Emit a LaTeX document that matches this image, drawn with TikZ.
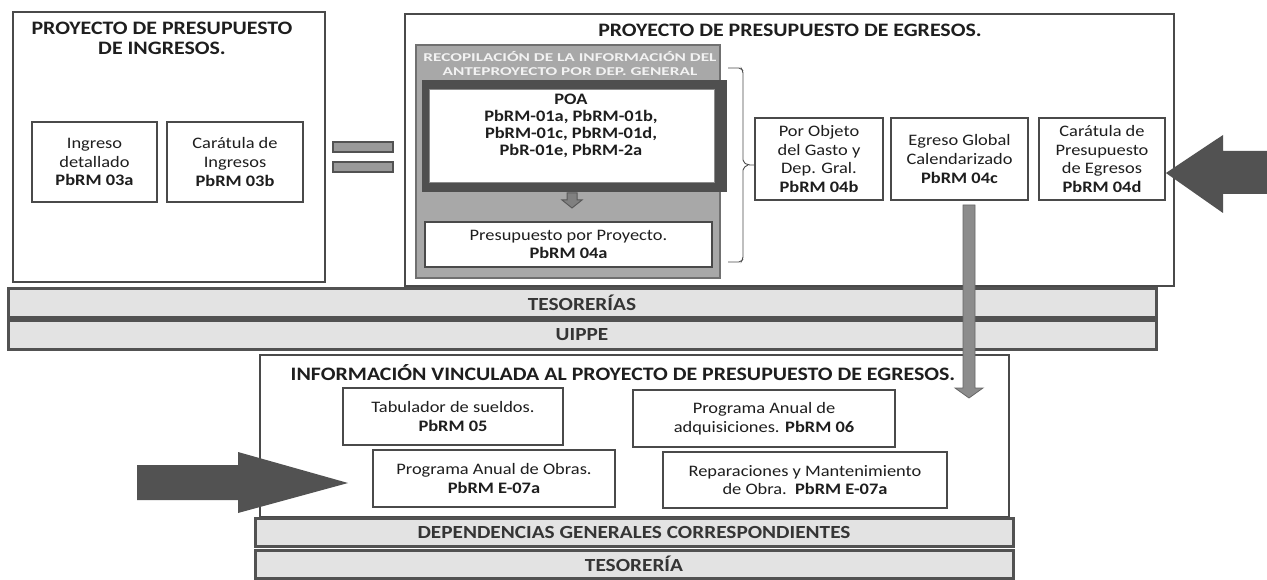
\documentclass[tikz,border=0pt]{standalone}
\usepackage{fontspec}
\setmainfont{Carlito}[FakeStretch=1.15]
\usetikzlibrary{calc}
\definecolor{boxc}{HTML}{4A4A4A}
\definecolor{txt}{HTML}{1E1E1E}
\definecolor{bandfill}{HTML}{E3E3E3}
\definecolor{bandline}{HTML}{525252}
\definecolor{grayarea}{HTML}{A8A8A8}
\definecolor{grayline}{HTML}{707070}
\definecolor{framedark}{HTML}{4F4F4F}
\definecolor{bigarrow}{HTML}{525252}
\definecolor{varrow}{HTML}{8C8C8C}
\definecolor{hdrtxt}{HTML}{F2F2F2}
\tikzset{
  panel/.style={draw=boxc, line width=1.8pt, fill=white, inner sep=0pt},
  box/.style={draw=boxc, line width=1.8pt, fill=white, align=center, inner sep=2pt,
    text=txt, font=\fontsize{16}{18.6}\selectfont},
  bigtitle/.style={align=center, text=txt, inner sep=0pt, font=\fontsize{19}{20}\selectfont\bfseries},
  band/.style={draw=bandline, line width=3pt, fill=bandfill, inner sep=0pt,
    text=txt!90, font=\fontsize{18.5}{20}\selectfont\bfseries},
  eqbar/.style={draw=bandline, line width=1.2pt, fill=black!40, inner sep=0pt},
  brace/.style={draw=black!70, line width=0.9pt, rounded corners=2pt},
}
\begin{document}
\begin{tikzpicture}[x=1pt,y=-1pt]
\useasboundingbox (0,0) rectangle (1267,580);

% ---------- Ingresos panel ----------
\node[panel, minimum width=312pt, minimum height=270pt] (ingpanel) at (169,147) {};
\node[bigtitle] (ingtitle) at (162,38) {PROYECTO DE PRESUPUESTO\\DE INGRESOS.};
\node[box, minimum width=125pt, minimum height=80pt] (ing) at (94.5,162)
  {Ingreso\\detallado\\\textbf{PbRM 03a}};
\node[box, minimum width=136pt, minimum height=80pt] (cari) at (235,162)
  {Carátula de\\Ingresos\\\textbf{PbRM 03b}};

% equals sign
\node[eqbar, minimum width=60pt, minimum height=10pt] (eqa) at (363,147) {};
\node[eqbar, minimum width=60pt, minimum height=10pt] (eqb) at (363,167) {};

% ---------- Egresos panel ----------
\node[panel, minimum width=769pt, minimum height=272pt] (egrpanel) at (789.5,150) {};
\node[bigtitle] (egrtitle) at (790,30) {PROYECTO DE PRESUPUESTO DE EGRESOS.};

\node[draw=grayline, line width=1.5pt, fill=grayarea, minimum width=304pt, minimum height=233pt, inner sep=0pt] (recop) at (568,161.5) {};
\node[align=center, inner sep=0pt, text=hdrtxt, font=\fontsize{12}{13.5}\selectfont\bfseries] (recoptxt) at (570,63.5)
  {\scalebox{1.25}[1]{RECOPILACIÓN DE LA INFORMACIÓN DEL}\\\scalebox{1.25}[1]{ANTEPROYECTO POR DEP. GENERAL}};

\node[draw=framedark, fill=framedark, minimum width=304pt, minimum height=111pt, inner sep=0pt] (poaframe) at (574,135.5) {};
\node[draw=black!45, line width=1pt, fill=white, minimum width=285pt, minimum height=93pt, inner sep=0pt] (poain) at (571.5,136.5) {};
\node[align=center, inner sep=0pt, text=txt, font=\fontsize{16}{17}\selectfont\bfseries] (poatxt) at (571,125.5)
  {POA\\PbRM-01a, PbRM-01b,\\PbRM-01c, PbRM-01d,\\PbR-01e, PbRM-2a};

% small down arrow
\coordinate (sa) at (572,193);
\filldraw[fill=black!50, draw=black!65, line width=1pt]
  ($(sa)+(-5,0)$) -- ($(sa)+(5,0)$) -- ($(sa)+(5,7)$) -- ($(sa)+(10,7)$) -- ($(sa)+(0,15)$)
  -- ($(sa)+(-10,7)$) -- ($(sa)+(-5,7)$) -- cycle;

\node[box, minimum width=287pt, minimum height=45pt, inner sep=1pt] (ppp) at (568.5,244.5)
  {Presupuesto por Proyecto.\\\textbf{PbRM 04a}};

% ---------- right boxes ----------
\node[box, minimum width=128pt, minimum height=82pt] (obj) at (819,159)
  {Por Objeto\\del Gasto y\\Dep. Gral.\\\textbf{PbRM 04b}};
\node[box, minimum width=137pt, minimum height=82pt] (egc) at (959.5,159)
  {Egreso Global\\Calendarizado\\\textbf{PbRM 04c}};
\node[box, minimum width=126pt, minimum height=82pt] (care) at (1102,159)
  {Carátula de\\Presupuesto\\de Egresos\\\textbf{PbRM 04d}};

% brace
\coordinate (bt) at (728,68);
\coordinate (bb) at (728,262);
\draw[brace] (bt) -- (741,68) -- (743,71) -- (743,162) -- (748,165) -- (obj.west |- 0,165);
\draw[brace] (748,165) -- (743,168) -- (743,259) -- (741,262) -- (bb);

% big left-pointing arrow
\fill[bigarrow] (care.east |- 0,173) -- (1223,135) -- (1223,151) -- (1267,151)
  -- (1267,194) -- (1223,194) -- (1223,213) -- cycle;

% ---------- bands ----------
\node[band, minimum width=1148pt, minimum height=28.5pt] (tes) at (582,303.25) {TESORERÍAS};
\node[band, minimum width=1148pt, minimum height=28.5pt] (uippe) at (582,334.75) {UIPPE};

% ---------- Informacion panel ----------
\node[panel, minimum width=749pt, minimum height=162pt] (infopanel) at (634.5,436) {};
\node[bigtitle] (infotitle) at (623,373) {INFORMACIÓN VINCULADA AL PROYECTO DE PRESUPUESTO DE EGRESOS.};
\node[box, minimum width=220pt, minimum height=57pt] (tab) at (453,416.5)
  {Tabulador de sueldos.\\\textbf{PbRM 05}};
\node[box, minimum width=262pt, minimum height=57pt] (adq) at (764,418.5)
  {Programa Anual de\\adquisiciones. \textbf{PbRM 06}};
\node[box, minimum width=242pt, minimum height=57pt] (obr) at (494,478.5)
  {Programa Anual de Obras.\\\textbf{PbRM E-07a}};
\node[box, minimum width=284pt, minimum height=56pt] (rep) at (805,480)
  {Reparaciones y Mantenimiento\\de Obra.\ \ \textbf{PbRM E-07a}};

\node[band, minimum width=758pt, minimum height=28.5pt] (dep) at (634,532.25) {DEPENDENCIAS GENERALES CORRESPONDIENTES};
\node[band, minimum width=758pt, minimum height=27.5pt] (tes2) at (634,564.25) {TESORERÍA};

% vertical arrow from Egreso Global down to Informacion panel
\coordinate (vt) at (969,205);
\coordinate (vb) at (969,398);
\filldraw[fill=varrow, draw=black!60, line width=0.8pt]
  ($(vt)+(-6,0)$) -- ($(vt)+(6,0)$) -- ($(vb)+(6,-10)$) -- ($(vb)+(14,-10)$) -- (vb)
  -- ($(vb)+(-14,-10)$) -- ($(vb)+(-6,-10)$) -- cycle;

% big right-pointing arrow (lower left)
\coordinate (ra) at (348,483);
\fill[bigarrow] (137,465) -- (238,465) -- (238,452) -- (ra) -- (238,513) -- (238,500) -- (137,500) -- cycle;
\end{tikzpicture}
\end{document}
